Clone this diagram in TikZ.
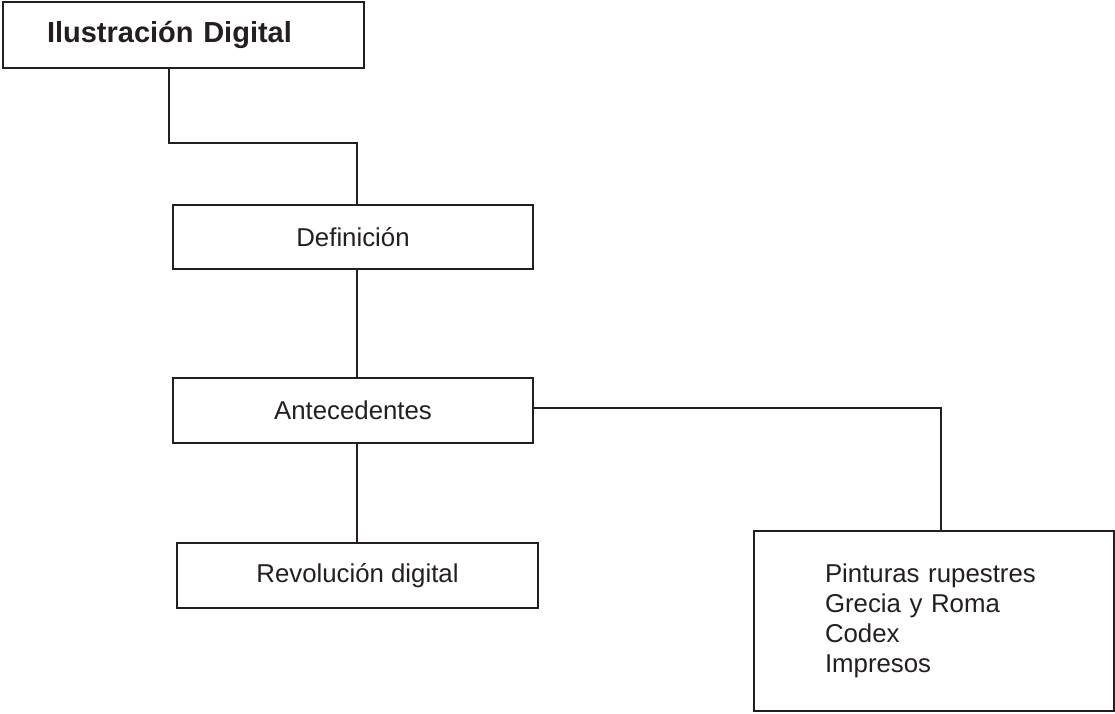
\documentclass[tikz,border=0pt]{standalone}
\usepackage{fontspec}
\setmainfont{Liberation Sans}
\usepackage{xcolor}
\usepackage{tikz}
\usetikzlibrary{positioning,calc}
\definecolor{ink}{RGB}{35,31,32}

\begin{document}
\begin{tikzpicture}[x = 1pt, y = -1pt,
  box/.style = {draw=ink, line width=1.6pt, rectangle, inner sep=0pt, text=ink,
    font=\fontsize{25.8}{30}\selectfont},
  link/.style = {draw=ink, line width=1.8pt}]
\useasboundingbox (0,0) rectangle (1115,713);
\node[box, minimum height=66pt, inner xsep=44pt, text width=273pt, align=left,
  font=\bfseries\fontsize{29}{34}\selectfont] (title) at (183.5, 35) {Ilustración Digital};
\node[box, minimum width=360pt, minimum height=64pt] (def) at (353, 237) {Definición};
\node[box, minimum width=360pt, minimum height=65pt] (ante) at (353, 410.5) {Antecedentes};
\node[box, minimum width=361pt, minimum height=65pt] (rev) at (357.5, 575.5) {Revolución digital};
\node[box, minimum height=180pt, inner xsep=71pt, text width=218pt, align=left] (hist) at (934, 621)
  {Pinturas rupestres\\Grecia y Roma\\Codex\\Impresos};
\coordinate (bend) at (169, 143);
\coordinate (spine) at (357, 0);
\coordinate (drop) at (941, 408);
\draw[link] (bend |- title.south) -- (bend) -| (spine |- def.north);
\draw[link] (spine |- def.south) -- (spine |- ante.north);
\draw[link] (spine |- ante.south) -- (spine |- rev.north);
\draw[link] (ante.east |- drop) -- (drop) -- (drop |- hist.north);

\end{tikzpicture}
\end{document}
